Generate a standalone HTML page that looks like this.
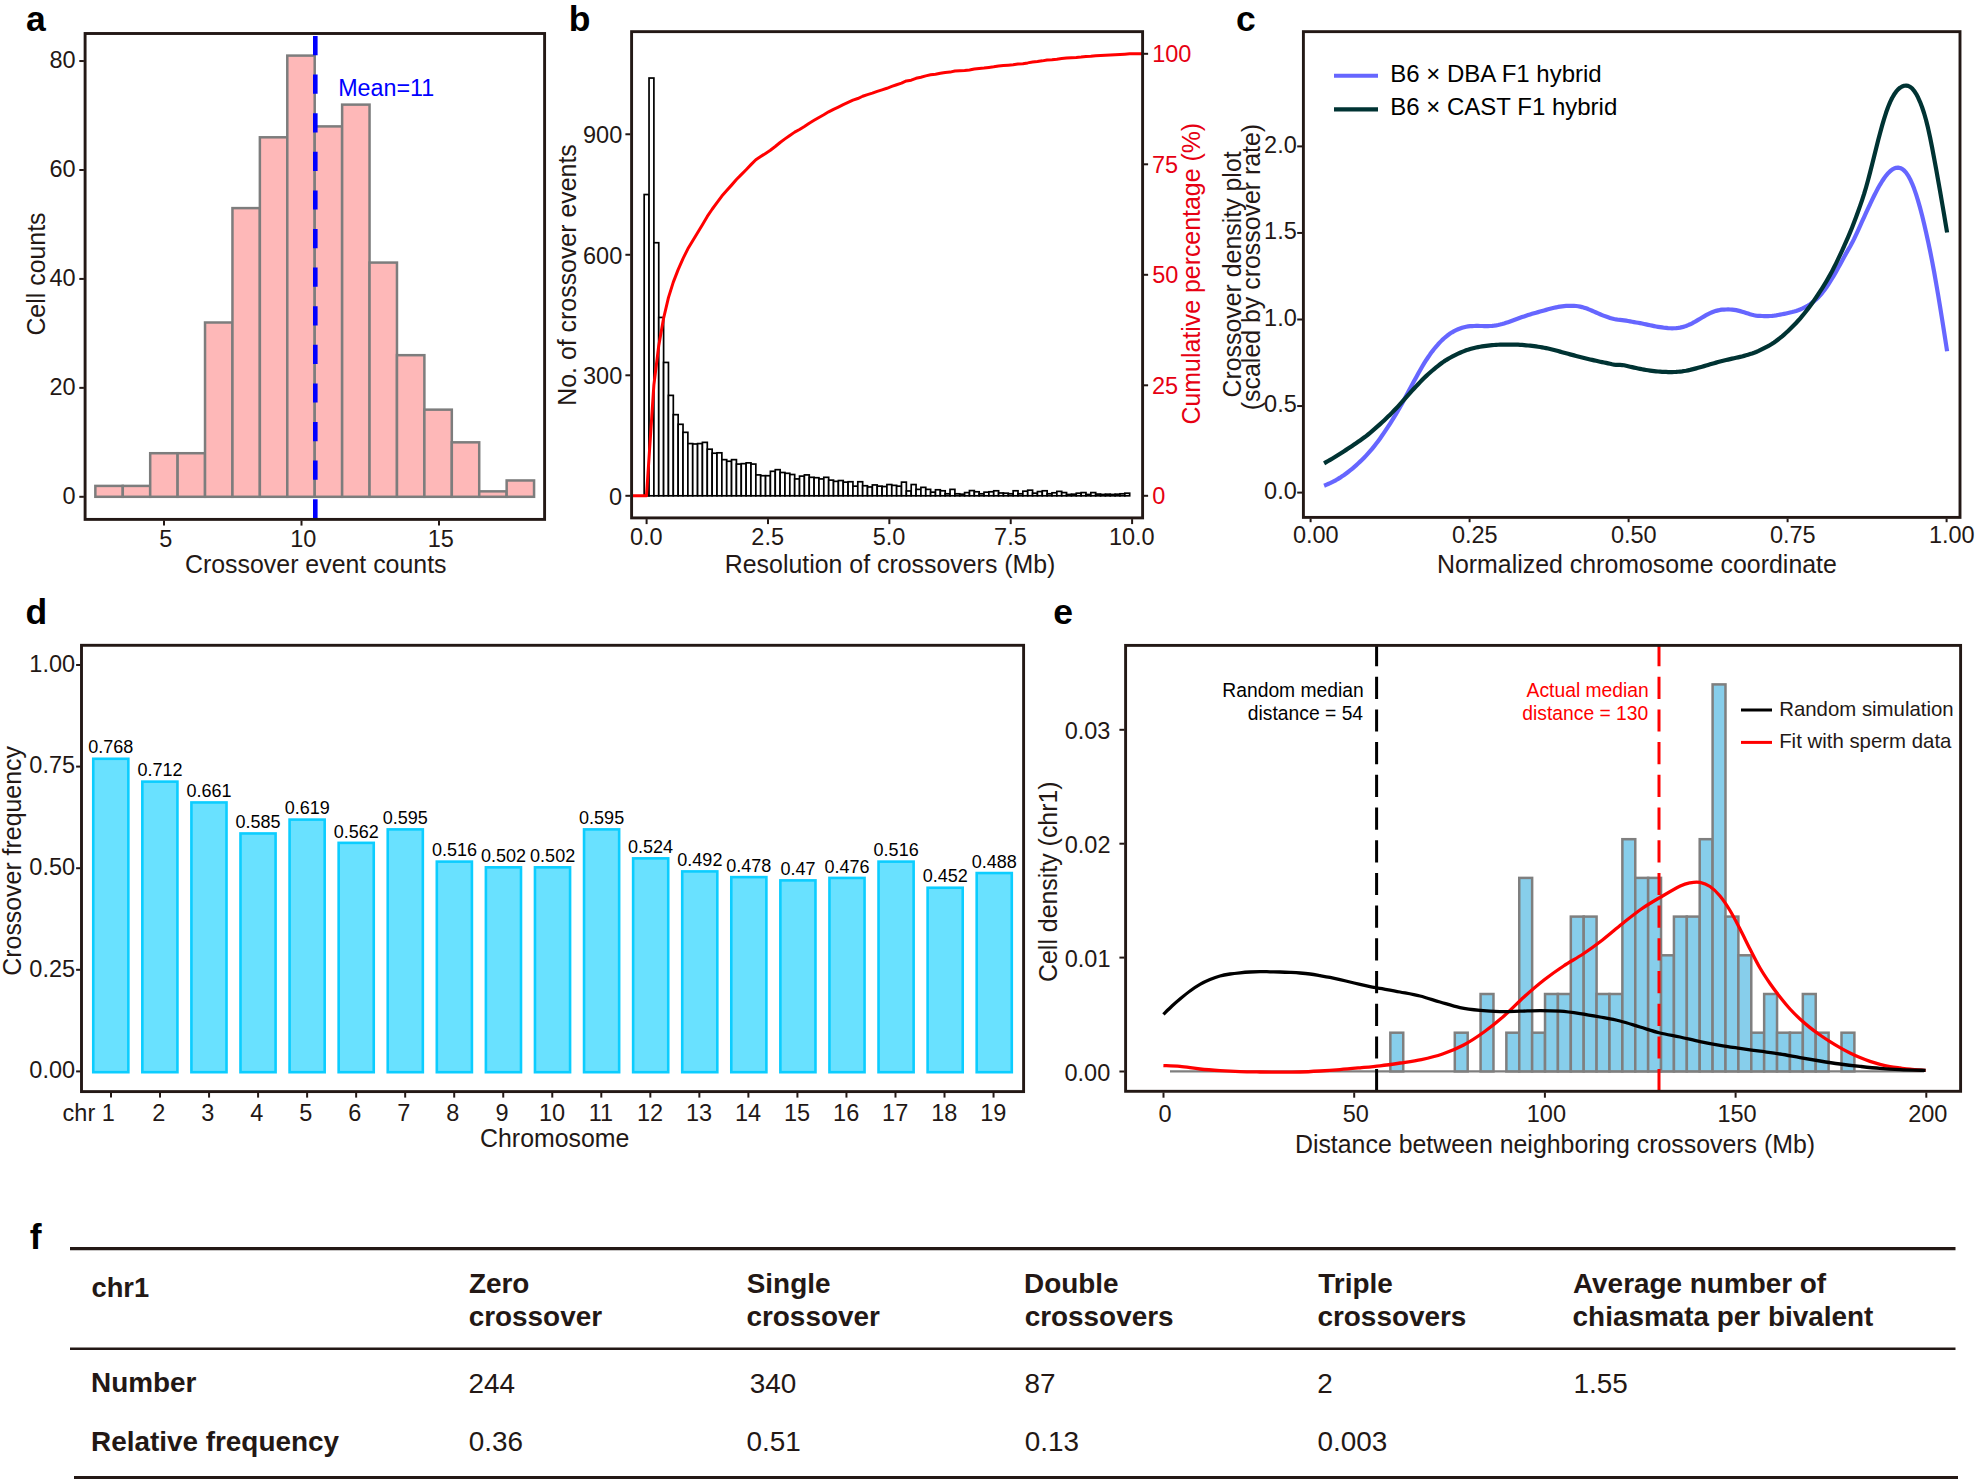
<!DOCTYPE html>
<html lang="en">
<head>
<meta charset="utf-8">
<title>Crossover statistics figure</title>
<style>
html,body{margin:0;padding:0;background:#fff;}
body{width:1975px;height:1479px;overflow:hidden;}
svg{display:block;font-family:"Liberation Sans",Arial,Helvetica,sans-serif;}
svg text{white-space:pre;}
</style>
</head>
<body>
<svg width="1975" height="1479" viewBox="0 0 1975 1479">
<rect x="0" y="0" width="1975" height="1479" fill="#fff"/>
<g id="pa">
<rect x="95.35" y="485.91" width="27.42" height="10.89" fill="#FEB8B8" stroke="#7D7D7D" stroke-width="2.5" />
<rect x="122.77" y="485.91" width="27.42" height="10.89" fill="#FEB8B8" stroke="#7D7D7D" stroke-width="2.5" />
<rect x="150.19" y="453.22" width="27.42" height="43.58" fill="#FEB8B8" stroke="#7D7D7D" stroke-width="2.5" />
<rect x="177.61" y="453.22" width="27.42" height="43.58" fill="#FEB8B8" stroke="#7D7D7D" stroke-width="2.5" />
<rect x="205.03" y="322.5" width="27.42" height="174.3" fill="#FEB8B8" stroke="#7D7D7D" stroke-width="2.5" />
<rect x="232.45" y="208.11" width="27.42" height="288.69" fill="#FEB8B8" stroke="#7D7D7D" stroke-width="2.5" />
<rect x="259.87" y="137.3" width="27.42" height="359.5" fill="#FEB8B8" stroke="#7D7D7D" stroke-width="2.5" />
<rect x="287.29" y="55.59" width="27.42" height="441.21" fill="#FEB8B8" stroke="#7D7D7D" stroke-width="2.5" />
<rect x="314.71" y="126.4" width="27.42" height="370.4" fill="#FEB8B8" stroke="#7D7D7D" stroke-width="2.5" />
<rect x="342.13" y="104.62" width="27.42" height="392.18" fill="#FEB8B8" stroke="#7D7D7D" stroke-width="2.5" />
<rect x="369.55" y="262.58" width="27.42" height="234.22" fill="#FEB8B8" stroke="#7D7D7D" stroke-width="2.5" />
<rect x="396.97" y="355.18" width="27.42" height="141.62" fill="#FEB8B8" stroke="#7D7D7D" stroke-width="2.5" />
<rect x="424.39" y="409.65" width="27.42" height="87.15" fill="#FEB8B8" stroke="#7D7D7D" stroke-width="2.5" />
<rect x="451.81" y="442.33" width="27.42" height="54.47" fill="#FEB8B8" stroke="#7D7D7D" stroke-width="2.5" />
<rect x="479.23" y="491.35" width="27.42" height="5.45" fill="#FEB8B8" stroke="#7D7D7D" stroke-width="2.5" />
<rect x="506.65" y="480.46" width="27.42" height="16.34" fill="#FEB8B8" stroke="#7D7D7D" stroke-width="2.5" />
<line x1="315.3" y1="36" x2="315.3" y2="518.2" stroke="#0000FF" stroke-width="4.6" stroke-dasharray="19.2 19.4"/>
<rect x="85.1" y="33.5" width="459.5" height="485.9" fill="none" stroke="#231815" stroke-width="2.9" />
<line x1="79.3" y1="496.8" x2="83.9" y2="496.8" stroke="#231815" stroke-width="2" />
<text x="62.6" y="503.6" font-size="23.5" fill="#231815">0</text>
<line x1="79.3" y1="387.86" x2="83.9" y2="387.86" stroke="#231815" stroke-width="2" />
<text x="49.55" y="394.66" font-size="23.5" fill="#231815">20</text>
<line x1="79.3" y1="278.92" x2="83.9" y2="278.92" stroke="#231815" stroke-width="2" />
<text x="49.55" y="285.72" font-size="23.5" fill="#231815">40</text>
<line x1="79.3" y1="169.98" x2="83.9" y2="169.98" stroke="#231815" stroke-width="2" />
<text x="49.55" y="176.78" font-size="23.5" fill="#231815">60</text>
<line x1="79.3" y1="61.04" x2="83.9" y2="61.04" stroke="#231815" stroke-width="2" />
<text x="49.55" y="67.84" font-size="23.5" fill="#231815">80</text>
<line x1="164" y1="520.6" x2="164" y2="525.6" stroke="#231815" stroke-width="2" />
<text x="159.16" y="546.8" font-size="23.5" fill="#231815">5</text>
<line x1="301.5" y1="520.6" x2="301.5" y2="525.6" stroke="#231815" stroke-width="2" />
<text x="290.13" y="546.8" font-size="23.5" fill="#231815">10</text>
<line x1="439" y1="520.6" x2="439" y2="525.6" stroke="#231815" stroke-width="2" />
<text x="427.63" y="546.8" font-size="23.5" fill="#231815">15</text>
<text x="185.03" y="572.5" font-size="24.9" fill="#231815">Crossover event counts</text>
<text x="44.6" y="335.6" font-size="24.9" fill="#231815" transform="rotate(-90 44.6 335.6)">Cell counts</text>
<text x="338.14" y="95.6" font-size="23.3" fill="#0000FF">Mean=11</text>
<text x="26.04" y="31" font-size="35.5" fill="#000" font-weight="bold">a</text>
</g>
<g id="pb">
<rect x="644.17" y="194.53" width="4.86" height="301.27" fill="#fff" stroke="#000" stroke-width="1.7" />
<rect x="649.03" y="78.03" width="4.86" height="417.77" fill="#fff" stroke="#000" stroke-width="1.7" />
<rect x="653.88" y="242.73" width="4.86" height="253.07" fill="#fff" stroke="#000" stroke-width="1.7" />
<rect x="658.74" y="317.45" width="4.86" height="178.35" fill="#fff" stroke="#000" stroke-width="1.7" />
<rect x="663.59" y="362.44" width="4.86" height="133.36" fill="#fff" stroke="#000" stroke-width="1.7" />
<rect x="668.45" y="395.38" width="4.86" height="100.42" fill="#fff" stroke="#000" stroke-width="1.7" />
<rect x="673.3" y="414.66" width="4.86" height="81.14" fill="#fff" stroke="#000" stroke-width="1.7" />
<rect x="678.16" y="424.3" width="4.86" height="71.5" fill="#fff" stroke="#000" stroke-width="1.7" />
<rect x="683.01" y="432.33" width="4.86" height="63.47" fill="#fff" stroke="#000" stroke-width="1.7" />
<rect x="687.87" y="443.58" width="4.86" height="52.22" fill="#fff" stroke="#000" stroke-width="1.7" />
<rect x="692.72" y="443.98" width="4.86" height="51.82" fill="#fff" stroke="#000" stroke-width="1.7" />
<rect x="697.58" y="443.58" width="4.86" height="52.22" fill="#fff" stroke="#000" stroke-width="1.7" />
<rect x="702.43" y="442.37" width="4.86" height="53.43" fill="#fff" stroke="#000" stroke-width="1.7" />
<rect x="707.29" y="449.2" width="4.86" height="46.6" fill="#fff" stroke="#000" stroke-width="1.7" />
<rect x="712.14" y="453.22" width="4.86" height="42.58" fill="#fff" stroke="#000" stroke-width="1.7" />
<rect x="717" y="452.82" width="4.86" height="42.98" fill="#fff" stroke="#000" stroke-width="1.7" />
<rect x="721.85" y="459.65" width="4.86" height="36.15" fill="#fff" stroke="#000" stroke-width="1.7" />
<rect x="726.71" y="461.25" width="4.86" height="34.55" fill="#fff" stroke="#000" stroke-width="1.7" />
<rect x="731.56" y="459.65" width="4.86" height="36.15" fill="#fff" stroke="#000" stroke-width="1.7" />
<rect x="736.42" y="464.07" width="4.86" height="31.73" fill="#fff" stroke="#000" stroke-width="1.7" />
<rect x="741.27" y="463.66" width="4.86" height="32.14" fill="#fff" stroke="#000" stroke-width="1.7" />
<rect x="746.13" y="462.86" width="4.86" height="32.94" fill="#fff" stroke="#000" stroke-width="1.7" />
<rect x="750.98" y="464.07" width="4.86" height="31.73" fill="#fff" stroke="#000" stroke-width="1.7" />
<rect x="755.84" y="474.91" width="4.86" height="20.89" fill="#fff" stroke="#000" stroke-width="1.7" />
<rect x="760.69" y="475.72" width="4.86" height="20.09" fill="#fff" stroke="#000" stroke-width="1.7" />
<rect x="765.55" y="475.72" width="4.86" height="20.09" fill="#fff" stroke="#000" stroke-width="1.7" />
<rect x="770.4" y="471.3" width="4.86" height="24.5" fill="#fff" stroke="#000" stroke-width="1.7" />
<rect x="775.26" y="469.69" width="4.86" height="26.11" fill="#fff" stroke="#000" stroke-width="1.7" />
<rect x="780.11" y="472.5" width="4.86" height="23.3" fill="#fff" stroke="#000" stroke-width="1.7" />
<rect x="784.97" y="473.3" width="4.86" height="22.5" fill="#fff" stroke="#000" stroke-width="1.7" />
<rect x="789.82" y="474.51" width="4.86" height="21.29" fill="#fff" stroke="#000" stroke-width="1.7" />
<rect x="794.68" y="478.93" width="4.86" height="16.87" fill="#fff" stroke="#000" stroke-width="1.7" />
<rect x="799.53" y="476.12" width="4.86" height="19.68" fill="#fff" stroke="#000" stroke-width="1.7" />
<rect x="804.39" y="474.91" width="4.86" height="20.89" fill="#fff" stroke="#000" stroke-width="1.7" />
<rect x="809.24" y="477.32" width="4.86" height="18.48" fill="#fff" stroke="#000" stroke-width="1.7" />
<rect x="814.1" y="477.72" width="4.86" height="18.08" fill="#fff" stroke="#000" stroke-width="1.7" />
<rect x="818.95" y="478.93" width="4.86" height="16.87" fill="#fff" stroke="#000" stroke-width="1.7" />
<rect x="823.81" y="477.32" width="4.86" height="18.48" fill="#fff" stroke="#000" stroke-width="1.7" />
<rect x="828.66" y="480.13" width="4.86" height="15.67" fill="#fff" stroke="#000" stroke-width="1.7" />
<rect x="833.52" y="481.34" width="4.86" height="14.46" fill="#fff" stroke="#000" stroke-width="1.7" />
<rect x="838.37" y="480.54" width="4.86" height="15.26" fill="#fff" stroke="#000" stroke-width="1.7" />
<rect x="843.23" y="482.14" width="4.86" height="13.66" fill="#fff" stroke="#000" stroke-width="1.7" />
<rect x="848.08" y="481.74" width="4.86" height="14.06" fill="#fff" stroke="#000" stroke-width="1.7" />
<rect x="852.94" y="486.16" width="4.86" height="9.64" fill="#fff" stroke="#000" stroke-width="1.7" />
<rect x="857.79" y="481.74" width="4.86" height="14.06" fill="#fff" stroke="#000" stroke-width="1.7" />
<rect x="862.65" y="485.76" width="4.86" height="10.04" fill="#fff" stroke="#000" stroke-width="1.7" />
<rect x="867.5" y="486.96" width="4.86" height="8.84" fill="#fff" stroke="#000" stroke-width="1.7" />
<rect x="872.36" y="484.95" width="4.86" height="10.85" fill="#fff" stroke="#000" stroke-width="1.7" />
<rect x="877.21" y="486.16" width="4.86" height="9.64" fill="#fff" stroke="#000" stroke-width="1.7" />
<rect x="882.07" y="486.56" width="4.86" height="9.24" fill="#fff" stroke="#000" stroke-width="1.7" />
<rect x="886.92" y="484.55" width="4.86" height="11.25" fill="#fff" stroke="#000" stroke-width="1.7" />
<rect x="891.78" y="485.36" width="4.86" height="10.44" fill="#fff" stroke="#000" stroke-width="1.7" />
<rect x="896.63" y="486.16" width="4.86" height="9.64" fill="#fff" stroke="#000" stroke-width="1.7" />
<rect x="901.49" y="482.14" width="4.86" height="13.66" fill="#fff" stroke="#000" stroke-width="1.7" />
<rect x="906.34" y="490.98" width="4.86" height="4.82" fill="#fff" stroke="#000" stroke-width="1.7" />
<rect x="911.2" y="484.55" width="4.86" height="11.25" fill="#fff" stroke="#000" stroke-width="1.7" />
<rect x="916.05" y="489.37" width="4.86" height="6.43" fill="#fff" stroke="#000" stroke-width="1.7" />
<rect x="920.91" y="487.36" width="4.86" height="8.44" fill="#fff" stroke="#000" stroke-width="1.7" />
<rect x="925.76" y="489.37" width="4.86" height="6.43" fill="#fff" stroke="#000" stroke-width="1.7" />
<rect x="930.62" y="492.18" width="4.86" height="3.62" fill="#fff" stroke="#000" stroke-width="1.7" />
<rect x="935.47" y="489.77" width="4.86" height="6.03" fill="#fff" stroke="#000" stroke-width="1.7" />
<rect x="940.33" y="490.78" width="4.86" height="5.02" fill="#fff" stroke="#000" stroke-width="1.7" />
<rect x="945.18" y="493.79" width="4.86" height="2.01" fill="#fff" stroke="#000" stroke-width="1.7" />
<rect x="950.04" y="489.37" width="4.86" height="6.43" fill="#fff" stroke="#000" stroke-width="1.7" />
<rect x="954.89" y="493.79" width="4.86" height="2.01" fill="#fff" stroke="#000" stroke-width="1.7" />
<rect x="959.75" y="494.19" width="4.86" height="1.61" fill="#fff" stroke="#000" stroke-width="1.7" />
<rect x="964.6" y="492.59" width="4.86" height="3.21" fill="#fff" stroke="#000" stroke-width="1.7" />
<rect x="969.46" y="490.58" width="4.86" height="5.22" fill="#fff" stroke="#000" stroke-width="1.7" />
<rect x="974.31" y="491.78" width="4.86" height="4.02" fill="#fff" stroke="#000" stroke-width="1.7" />
<rect x="979.17" y="493.79" width="4.86" height="2.01" fill="#fff" stroke="#000" stroke-width="1.7" />
<rect x="984.02" y="492.18" width="4.86" height="3.62" fill="#fff" stroke="#000" stroke-width="1.7" />
<rect x="988.88" y="491.78" width="4.86" height="4.02" fill="#fff" stroke="#000" stroke-width="1.7" />
<rect x="993.73" y="490.78" width="4.86" height="5.02" fill="#fff" stroke="#000" stroke-width="1.7" />
<rect x="998.59" y="492.99" width="4.86" height="2.81" fill="#fff" stroke="#000" stroke-width="1.7" />
<rect x="1003.44" y="493.19" width="4.86" height="2.61" fill="#fff" stroke="#000" stroke-width="1.7" />
<rect x="1008.3" y="493.79" width="4.86" height="2.01" fill="#fff" stroke="#000" stroke-width="1.7" />
<rect x="1013.15" y="490.78" width="4.86" height="5.02" fill="#fff" stroke="#000" stroke-width="1.7" />
<rect x="1018.01" y="493.79" width="4.86" height="2.01" fill="#fff" stroke="#000" stroke-width="1.7" />
<rect x="1022.86" y="491.18" width="4.86" height="4.62" fill="#fff" stroke="#000" stroke-width="1.7" />
<rect x="1027.72" y="490.18" width="4.86" height="5.62" fill="#fff" stroke="#000" stroke-width="1.7" />
<rect x="1032.57" y="493.19" width="4.86" height="2.61" fill="#fff" stroke="#000" stroke-width="1.7" />
<rect x="1037.43" y="491.58" width="4.86" height="4.22" fill="#fff" stroke="#000" stroke-width="1.7" />
<rect x="1042.28" y="490.78" width="4.86" height="5.02" fill="#fff" stroke="#000" stroke-width="1.7" />
<rect x="1047.14" y="493.79" width="4.86" height="2.01" fill="#fff" stroke="#000" stroke-width="1.7" />
<rect x="1051.99" y="492.79" width="4.86" height="3.01" fill="#fff" stroke="#000" stroke-width="1.7" />
<rect x="1056.85" y="491.38" width="4.86" height="4.42" fill="#fff" stroke="#000" stroke-width="1.7" />
<rect x="1061.7" y="492.59" width="4.86" height="3.21" fill="#fff" stroke="#000" stroke-width="1.7" />
<rect x="1066.56" y="494.47" width="4.86" height="1.33" fill="#fff" stroke="#000" stroke-width="1.7" />
<rect x="1071.41" y="494.19" width="4.86" height="1.61" fill="#fff" stroke="#000" stroke-width="1.7" />
<rect x="1076.27" y="493.19" width="4.86" height="2.61" fill="#fff" stroke="#000" stroke-width="1.7" />
<rect x="1081.12" y="492.59" width="4.86" height="3.21" fill="#fff" stroke="#000" stroke-width="1.7" />
<rect x="1085.98" y="494.47" width="4.86" height="1.33" fill="#fff" stroke="#000" stroke-width="1.7" />
<rect x="1090.83" y="492.59" width="4.86" height="3.21" fill="#fff" stroke="#000" stroke-width="1.7" />
<rect x="1095.69" y="494.07" width="4.86" height="1.73" fill="#fff" stroke="#000" stroke-width="1.7" />
<rect x="1100.54" y="494.47" width="4.86" height="1.33" fill="#fff" stroke="#000" stroke-width="1.7" />
<rect x="1105.4" y="494.19" width="4.86" height="1.61" fill="#fff" stroke="#000" stroke-width="1.7" />
<rect x="1110.25" y="494.47" width="4.86" height="1.33" fill="#fff" stroke="#000" stroke-width="1.7" />
<rect x="1115.11" y="494.19" width="4.86" height="1.61" fill="#fff" stroke="#000" stroke-width="1.7" />
<rect x="1119.96" y="493.79" width="4.86" height="2.01" fill="#fff" stroke="#000" stroke-width="1.7" />
<rect x="1124.82" y="493.19" width="4.86" height="2.61" fill="#fff" stroke="#000" stroke-width="1.7" />
<polyline points="631.6,495.8 646.5,495.8 653.88,384.82 658.74,345.77 663.59,318.24 668.45,297.66 673.3,282.16 678.16,269.63 683.01,258.6 687.87,248.8 692.72,240.74 697.58,232.74 702.43,224.69 707.29,216.44 712.14,209.25 717,202.68 721.85,196.04 726.71,190.46 731.56,185.13 736.42,179.55 741.27,174.65 746.13,169.69 750.98,164.61 755.84,159.71 760.69,156.49 765.55,153.39 770.4,150.29 775.26,146.51 780.11,142.48 784.97,138.88 789.82,135.41 794.68,132.12 799.53,129.51 804.39,126.45 809.24,123.18 814.1,120.29 818.95,117.44 823.81,114.77 828.66,111.84 833.52,109.35 838.37,107.03 843.23,104.58 848.08,102.38 852.94,100.11 857.79,98.54 862.65,96.25 867.5,94.61 872.36,93.16 877.21,91.39 882.07,89.81 886.92,88.3 891.78,86.46 896.63,84.75 901.49,83.18 906.34,80.94 911.2,80.15 916.05,78.31 920.91,77.26 925.76,75.88 930.62,74.83 935.47,74.24 940.33,73.25 945.18,72.43 950.04,72.1 954.89,71.05 959.75,70.72 964.6,70.46 969.46,69.93 974.31,69.08 979.17,68.42 984.02,68.09 988.88,67.5 993.73,66.84 998.59,66.02 1003.44,65.56 1008.3,65.14 1013.15,64.81 1018.01,63.99 1022.86,63.66 1027.72,62.9 1032.57,61.98 1037.43,61.55 1042.28,60.86 1047.14,60.04 1051.99,59.71 1056.85,59.22 1061.7,58.5 1066.56,57.97 1071.41,57.76 1076.27,57.49 1081.12,57.07 1085.98,56.54 1090.83,56.32 1095.69,55.8 1100.54,55.52 1105.4,55.3 1110.25,55.04 1115.11,54.82 1119.96,54.56 1124.82,54.23 1129.67,53.8 1142.6,53.8" fill="none" stroke="#FF0000" stroke-width="3" stroke-linejoin="round"/>
<rect x="631.6" y="31.65" width="511" height="486.25" fill="none" stroke="#231815" stroke-width="2.9" />
<line x1="625.4" y1="495.8" x2="630.4" y2="495.8" stroke="#231815" stroke-width="2" />
<text x="609.1" y="504.7" font-size="23.5" fill="#231815">0</text>
<line x1="625.4" y1="375.29" x2="630.4" y2="375.29" stroke="#231815" stroke-width="2" />
<text x="583.01" y="384.19" font-size="23.5" fill="#231815">300</text>
<line x1="625.4" y1="254.78" x2="630.4" y2="254.78" stroke="#231815" stroke-width="2" />
<text x="583.01" y="263.68" font-size="23.5" fill="#231815">600</text>
<line x1="625.4" y1="134.27" x2="630.4" y2="134.27" stroke="#231815" stroke-width="2" />
<text x="583.01" y="143.17" font-size="23.5" fill="#231815">900</text>
<line x1="1143.8" y1="495.8" x2="1148.1" y2="495.8" stroke="#231815" stroke-width="2" />
<text x="1152.26" y="504.3" font-size="23.5" fill="#E60012">0</text>
<line x1="1143.8" y1="385.3" x2="1148.1" y2="385.3" stroke="#231815" stroke-width="2" />
<text x="1152.03" y="393.8" font-size="23.5" fill="#E60012">25</text>
<line x1="1143.8" y1="274.8" x2="1148.1" y2="274.8" stroke="#231815" stroke-width="2" />
<text x="1152.26" y="283.3" font-size="23.5" fill="#E60012">50</text>
<line x1="1143.8" y1="164.3" x2="1148.1" y2="164.3" stroke="#231815" stroke-width="2" />
<text x="1152.03" y="172.8" font-size="23.5" fill="#E60012">75</text>
<line x1="1143.8" y1="53.8" x2="1148.1" y2="53.8" stroke="#231815" stroke-width="2" />
<text x="1152.24" y="62.3" font-size="23.5" fill="#E60012">100</text>
<line x1="646.6" y1="519.1" x2="646.6" y2="524.1" stroke="#231815" stroke-width="2" />
<text x="629.97" y="544.8" font-size="23.5" fill="#231815">0.0</text>
<line x1="767.98" y1="519.1" x2="767.98" y2="524.1" stroke="#231815" stroke-width="2" />
<text x="751.34" y="544.8" font-size="23.5" fill="#231815">2.5</text>
<line x1="889.35" y1="519.1" x2="889.35" y2="524.1" stroke="#231815" stroke-width="2" />
<text x="872.72" y="544.8" font-size="23.5" fill="#231815">5.0</text>
<line x1="1010.73" y1="519.1" x2="1010.73" y2="524.1" stroke="#231815" stroke-width="2" />
<text x="994.09" y="544.8" font-size="23.5" fill="#231815">7.5</text>
<line x1="1132.1" y1="519.1" x2="1132.1" y2="524.1" stroke="#231815" stroke-width="2" />
<text x="1108.93" y="544.8" font-size="23.5" fill="#231815">10.0</text>
<text x="724.81" y="572.8" font-size="24.9" fill="#231815">Resolution of crossovers (Mb)</text>
<text x="576.4" y="405.7" font-size="24.9" fill="#231815" transform="rotate(-90 576.4 405.7)">No. of crossover events</text>
<text x="1200.2" y="424.46" font-size="24.9" fill="#E60012" transform="rotate(-90 1200.2 424.46)">Cumulative percentage (%)</text>
<text x="568.79" y="31" font-size="35.5" fill="#000" font-weight="bold">b</text>
</g>
<g id="pc">
<polyline points="1324.1,485.72 1326.1,484.9 1328.1,484.05 1330.1,483.15 1332.1,482.19 1334.1,481.16 1336.1,480.06 1338.1,478.88 1340.1,477.63 1342.1,476.31 1344.1,474.93 1346.1,473.48 1348.1,471.97 1350.1,470.39 1352.1,468.76 1354.1,467.06 1356.1,465.32 1358.1,463.52 1360.1,461.66 1362.1,459.73 1364.1,457.72 1366.1,455.63 1368.1,453.45 1370.1,451.18 1372.1,448.82 1374.1,446.37 1376.1,443.81 1378.1,441.16 1380.1,438.4 1382.1,435.56 1384.1,432.64 1386.1,429.66 1388.1,426.62 1390.1,423.52 1392.1,420.36 1394.1,417.13 1396.1,413.82 1398.1,410.44 1400.1,406.97 1402.1,403.42 1404.1,399.79 1406.1,396.09 1408.1,392.35 1410.1,388.59 1412.1,384.82 1414.1,381.08 1416.1,377.38 1418.1,373.74 1420.1,370.18 1422.1,366.74 1424.1,363.42 1426.1,360.24 1428.1,357.22 1430.1,354.34 1432.1,351.61 1434.1,349.02 1436.1,346.58 1438.1,344.29 1440.1,342.14 1442.1,340.13 1444.1,338.27 1446.1,336.56 1448.1,334.99 1450.1,333.57 1452.1,332.3 1454.1,331.17 1456.1,330.17 1458.1,329.27 1460.1,328.49 1462.1,327.8 1464.1,327.23 1466.1,326.78 1468.1,326.44 1470.1,326.2 1472.1,326.06 1474.1,325.99 1476.1,325.97 1478.1,325.97 1480.1,325.98 1482.1,326 1484.1,326.03 1486.1,326.06 1488.1,326.06 1490.1,326.01 1492.1,325.87 1494.1,325.66 1496.1,325.36 1498.1,324.99 1500.1,324.55 1502.1,324.03 1504.1,323.45 1506.1,322.81 1508.1,322.15 1510.1,321.45 1512.1,320.73 1514.1,320 1516.1,319.26 1518.1,318.53 1520.1,317.81 1522.1,317.1 1524.1,316.41 1526.1,315.74 1528.1,315.09 1530.1,314.46 1532.1,313.86 1534.1,313.27 1536.1,312.7 1538.1,312.13 1540.1,311.58 1542.1,311.01 1544.1,310.45 1546.1,309.89 1548.1,309.34 1550.1,308.8 1552.1,308.28 1554.1,307.79 1556.1,307.34 1558.1,306.94 1560.1,306.59 1562.1,306.3 1564.1,306.08 1566.1,305.94 1568.1,305.86 1570.1,305.84 1572.1,305.84 1574.1,305.89 1576.1,306.01 1578.1,306.25 1580.1,306.61 1582.1,307.09 1584.1,307.66 1586.1,308.33 1588.1,309.08 1590.1,309.9 1592.1,310.76 1594.1,311.63 1596.1,312.52 1598.1,313.39 1600.1,314.25 1602.1,315.07 1604.1,315.84 1606.1,316.58 1608.1,317.27 1610.1,317.92 1612.1,318.52 1614.1,319.05 1616.1,319.45 1618.1,319.72 1620.1,319.89 1622.1,320.07 1624.1,320.33 1626.1,320.67 1628.1,321.04 1630.1,321.42 1632.1,321.77 1634.1,322.11 1636.1,322.45 1638.1,322.79 1640.1,323.16 1642.1,323.55 1644.1,323.96 1646.1,324.4 1648.1,324.83 1650.1,325.26 1652.1,325.68 1654.1,326.08 1656.1,326.46 1658.1,326.82 1660.1,327.14 1662.1,327.44 1664.1,327.71 1666.1,327.94 1668.1,328.13 1670.1,328.25 1672.1,328.28 1674.1,328.23 1676.1,328.1 1678.1,327.89 1680.1,327.59 1682.1,327.17 1684.1,326.62 1686.1,325.95 1688.1,325.16 1690.1,324.27 1692.1,323.28 1694.1,322.21 1696.1,321.07 1698.1,319.89 1700.1,318.69 1702.1,317.49 1704.1,316.32 1706.1,315.19 1708.1,314.13 1710.1,313.15 1712.1,312.27 1714.1,311.51 1716.1,310.87 1718.1,310.35 1720.1,309.95 1722.1,309.69 1724.1,309.54 1726.1,309.48 1728.1,309.47 1730.1,309.51 1732.1,309.61 1734.1,309.82 1736.1,310.16 1738.1,310.6 1740.1,311.12 1742.1,311.7 1744.1,312.31 1746.1,312.95 1748.1,313.59 1750.1,314.21 1752.1,314.78 1754.1,315.27 1756.1,315.63 1758.1,315.84 1760.1,315.95 1762.1,316.02 1764.1,316.09 1766.1,316.12 1768.1,316.09 1770.1,316.01 1772.1,315.86 1774.1,315.63 1776.1,315.35 1778.1,315.01 1780.1,314.65 1782.1,314.27 1784.1,313.86 1786.1,313.45 1788.1,313.01 1790.1,312.55 1792.1,312.05 1794.1,311.5 1796.1,310.89 1798.1,310.21 1800.1,309.45 1802.1,308.61 1804.1,307.67 1806.1,306.63 1808.1,305.46 1810.1,304.17 1812.1,302.74 1814.1,301.17 1816.1,299.45 1818.1,297.54 1820.1,295.41 1822.1,293.06 1824.1,290.49 1826.1,287.73 1828.1,284.79 1830.1,281.68 1832.1,278.43 1834.1,275.06 1836.1,271.59 1838.1,268.04 1840.1,264.41 1842.1,260.71 1844.1,257 1846.1,253.38 1848.1,249.92 1850.1,246.49 1852.1,242.86 1854.1,238.89 1856.1,234.64 1858.1,230.26 1860.1,225.86 1862.1,221.48 1864.1,217.1 1866.1,212.73 1868.1,208.39 1870.1,204.09 1872.1,199.86 1874.1,195.77 1876.1,191.83 1878.1,188.09 1880.1,184.55 1882.1,181.26 1884.1,178.24 1886.1,175.54 1888.1,173.22 1890.1,171.26 1892.1,169.69 1894.1,168.53 1896.1,167.83 1898.1,167.64 1900.1,167.98 1902.1,168.91 1904.1,170.47 1906.1,172.68 1908.1,175.59 1910.1,179.2 1912.1,183.53 1914.1,188.6 1916.1,194.38 1918.1,200.83 1920.1,207.9 1922.1,215.56 1924.1,223.77 1926.1,232.45 1928.1,241.52 1930.1,251.01 1932.1,261.05 1934.1,271.74 1936.1,283.02 1938.1,294.76 1940.1,306.86 1942.1,319.27 1944.1,331.93 1946.1,344.77 1946.6,347.99 1947.1,351.21" fill="none" stroke="#6666FF" stroke-width="4.2" stroke-linejoin="round"/>
<polyline points="1324.1,463.34 1326.1,462.19 1328.1,461.04 1330.1,459.88 1332.1,458.69 1334.1,457.49 1336.1,456.26 1338.1,455.02 1340.1,453.76 1342.1,452.48 1344.1,451.19 1346.1,449.88 1348.1,448.57 1350.1,447.24 1352.1,445.9 1354.1,444.55 1356.1,443.19 1358.1,441.83 1360.1,440.44 1362.1,439.03 1364.1,437.57 1366.1,436.05 1368.1,434.48 1370.1,432.84 1372.1,431.16 1374.1,429.45 1376.1,427.7 1378.1,425.92 1380.1,424.12 1382.1,422.28 1384.1,420.41 1386.1,418.52 1388.1,416.59 1390.1,414.63 1392.1,412.63 1394.1,410.59 1396.1,408.48 1398.1,406.32 1400.1,404.1 1402.1,401.85 1404.1,399.59 1406.1,397.33 1408.1,395.09 1410.1,392.87 1412.1,390.69 1414.1,388.52 1416.1,386.38 1418.1,384.25 1420.1,382.14 1422.1,380.08 1424.1,378.07 1426.1,376.13 1428.1,374.26 1430.1,372.46 1432.1,370.72 1434.1,369.04 1436.1,367.4 1438.1,365.81 1440.1,364.26 1442.1,362.77 1444.1,361.38 1446.1,360.08 1448.1,358.88 1450.1,357.74 1452.1,356.66 1454.1,355.63 1456.1,354.63 1458.1,353.68 1460.1,352.77 1462.1,351.9 1464.1,351.09 1466.1,350.33 1468.1,349.63 1470.1,349 1472.1,348.44 1474.1,347.94 1476.1,347.51 1478.1,347.11 1480.1,346.76 1482.1,346.43 1484.1,346.12 1486.1,345.84 1488.1,345.59 1490.1,345.36 1492.1,345.17 1494.1,345 1496.1,344.86 1498.1,344.76 1500.1,344.68 1502.1,344.63 1504.1,344.59 1506.1,344.57 1508.1,344.56 1510.1,344.56 1512.1,344.56 1514.1,344.58 1516.1,344.62 1518.1,344.7 1520.1,344.81 1522.1,344.95 1524.1,345.11 1526.1,345.29 1528.1,345.48 1530.1,345.69 1532.1,345.92 1534.1,346.16 1536.1,346.42 1538.1,346.71 1540.1,347.02 1542.1,347.36 1544.1,347.73 1546.1,348.13 1548.1,348.55 1550.1,349.01 1552.1,349.49 1554.1,350 1556.1,350.53 1558.1,351.07 1560.1,351.63 1562.1,352.18 1564.1,352.74 1566.1,353.29 1568.1,353.83 1570.1,354.36 1572.1,354.88 1574.1,355.4 1576.1,355.92 1578.1,356.44 1580.1,356.96 1582.1,357.48 1584.1,357.98 1586.1,358.48 1588.1,358.97 1590.1,359.44 1592.1,359.91 1594.1,360.37 1596.1,360.82 1598.1,361.26 1600.1,361.69 1602.1,362.1 1604.1,362.51 1606.1,362.92 1608.1,363.33 1610.1,363.76 1612.1,364.2 1614.1,364.59 1616.1,364.86 1618.1,364.96 1620.1,364.96 1622.1,365.04 1624.1,365.29 1626.1,365.7 1628.1,366.18 1630.1,366.68 1632.1,367.16 1634.1,367.61 1636.1,368.05 1638.1,368.48 1640.1,368.88 1642.1,369.27 1644.1,369.63 1646.1,369.98 1648.1,370.3 1650.1,370.59 1652.1,370.86 1654.1,371.1 1656.1,371.31 1658.1,371.5 1660.1,371.66 1662.1,371.79 1664.1,371.89 1666.1,371.97 1668.1,372.03 1670.1,372.06 1672.1,372.05 1674.1,372 1676.1,371.9 1678.1,371.75 1680.1,371.56 1682.1,371.33 1684.1,371.04 1686.1,370.71 1688.1,370.32 1690.1,369.89 1692.1,369.41 1694.1,368.9 1696.1,368.36 1698.1,367.81 1700.1,367.26 1702.1,366.7 1704.1,366.13 1706.1,365.55 1708.1,364.96 1710.1,364.36 1712.1,363.77 1714.1,363.19 1716.1,362.63 1718.1,362.09 1720.1,361.57 1722.1,361.06 1724.1,360.56 1726.1,360.07 1728.1,359.59 1730.1,359.12 1732.1,358.67 1734.1,358.23 1736.1,357.8 1738.1,357.37 1740.1,356.91 1742.1,356.42 1744.1,355.89 1746.1,355.33 1748.1,354.73 1750.1,354.11 1752.1,353.47 1754.1,352.77 1756.1,352.01 1758.1,351.14 1760.1,350.19 1762.1,349.2 1764.1,348.2 1766.1,347.2 1768.1,346.15 1770.1,345 1772.1,343.77 1774.1,342.44 1776.1,341.03 1778.1,339.53 1780.1,337.96 1782.1,336.31 1784.1,334.58 1786.1,332.79 1788.1,330.94 1790.1,329.03 1792.1,327.06 1794.1,325.03 1796.1,322.94 1798.1,320.77 1800.1,318.53 1802.1,316.2 1804.1,313.77 1806.1,311.26 1808.1,308.65 1810.1,305.97 1812.1,303.2 1814.1,300.37 1816.1,297.47 1818.1,294.49 1820.1,291.45 1822.1,288.33 1824.1,285.12 1826.1,281.82 1828.1,278.4 1830.1,274.86 1832.1,271.16 1834.1,267.32 1836.1,263.32 1838.1,259.18 1840.1,254.94 1842.1,250.61 1844.1,246.19 1846.1,241.69 1848.1,237.09 1850.1,232.35 1852.1,227.42 1854.1,222.29 1856.1,216.97 1858.1,211.5 1860.1,205.9 1862.1,200.1 1864.1,193.94 1866.1,187.27 1868.1,180.05 1870.1,172.39 1872.1,164.47 1874.1,156.45 1876.1,148.45 1878.1,140.57 1880.1,132.91 1882.1,125.61 1884.1,118.79 1886.1,112.56 1888.1,107.01 1890.1,102.17 1892.1,98.04 1894.1,94.58 1896.1,91.73 1898.1,89.45 1900.1,87.7 1902.1,86.48 1904.1,85.78 1906.1,85.59 1908.1,85.92 1910.1,86.85 1912.1,88.44 1914.1,90.76 1916.1,93.8 1918.1,97.55 1920.1,102.02 1922.1,107.23 1924.1,113.27 1926.1,120.28 1928.1,128.36 1930.1,137.51 1932.1,147.51 1934.1,158.08 1936.1,168.98 1938.1,180.12 1940.1,191.46 1942.1,202.99 1944.1,214.7 1946.1,226.54 1947.1,232.49 1947.1,232.49" fill="none" stroke="#003333" stroke-width="4.2" stroke-linejoin="round"/>
<rect x="1303.4" y="31.65" width="656.6" height="485.75" fill="none" stroke="#231815" stroke-width="2.9" />
<line x1="1297.2" y1="492.6" x2="1302.2" y2="492.6" stroke="#231815" stroke-width="2" />
<text x="1264.08" y="498.9" font-size="23.5" fill="#231815">0.0</text>
<line x1="1297.2" y1="406.05" x2="1302.2" y2="406.05" stroke="#231815" stroke-width="2" />
<text x="1264.08" y="412.35" font-size="23.5" fill="#231815">0.5</text>
<line x1="1297.2" y1="319.5" x2="1302.2" y2="319.5" stroke="#231815" stroke-width="2" />
<text x="1264.08" y="325.8" font-size="23.5" fill="#231815">1.0</text>
<line x1="1297.2" y1="232.95" x2="1302.2" y2="232.95" stroke="#231815" stroke-width="2" />
<text x="1264.08" y="239.25" font-size="23.5" fill="#231815">1.5</text>
<line x1="1297.2" y1="146.4" x2="1302.2" y2="146.4" stroke="#231815" stroke-width="2" />
<text x="1264.08" y="152.7" font-size="23.5" fill="#231815">2.0</text>
<line x1="1310.6" y1="518.6" x2="1310.6" y2="522.2" stroke="#231815" stroke-width="2" />
<text x="1292.93" y="542.5" font-size="23.5" fill="#231815">0.00</text>
<line x1="1469.6" y1="518.6" x2="1469.6" y2="522.2" stroke="#231815" stroke-width="2" />
<text x="1451.93" y="542.5" font-size="23.5" fill="#231815">0.25</text>
<line x1="1628.6" y1="518.6" x2="1628.6" y2="522.2" stroke="#231815" stroke-width="2" />
<text x="1610.93" y="542.5" font-size="23.5" fill="#231815">0.50</text>
<line x1="1787.6" y1="518.6" x2="1787.6" y2="522.2" stroke="#231815" stroke-width="2" />
<text x="1769.93" y="542.5" font-size="23.5" fill="#231815">0.75</text>
<line x1="1946.6" y1="518.6" x2="1946.6" y2="522.2" stroke="#231815" stroke-width="2" />
<text x="1928.93" y="542.5" font-size="23.5" fill="#231815">1.00</text>
<text x="1437.02" y="572.8" font-size="24.9" fill="#231815">Normalized chromosome coordinate</text>
<text x="1240.6" y="397.59" font-size="24.9" fill="#231815" transform="rotate(-90 1240.6 397.59)">Crossover density plot</text>
<text x="1259.6" y="410.17" font-size="24.9" fill="#231815" transform="rotate(-90 1259.6 410.17)">(scaled by crossover rate)</text>
<line x1="1334" y1="75.8" x2="1378" y2="75.8" stroke="#6666FF" stroke-width="4.1" />
<line x1="1334" y1="109.3" x2="1378" y2="109.3" stroke="#003333" stroke-width="4.3" />
<text x="1390.28" y="81.6" font-size="24" fill="#000">B6 × DBA F1 hybrid</text>
<text x="1390.28" y="115.2" font-size="24" fill="#000">B6 × CAST F1 hybrid</text>
<text x="1235.88" y="31" font-size="35.5" fill="#000" font-weight="bold">c</text>
</g>
<g id="pd">
<rect x="93.25" y="758.78" width="35.1" height="313.42" fill="#69E1FF" stroke="#0CCDFF" stroke-width="2.6" />
<text x="88.3" y="753.48" font-size="18" fill="#000">0.768</text>
<rect x="142.33" y="781.63" width="35.1" height="290.57" fill="#69E1FF" stroke="#0CCDFF" stroke-width="2.6" />
<text x="137.47" y="776.33" font-size="18" fill="#000">0.712</text>
<rect x="191.41" y="802.45" width="35.1" height="269.75" fill="#69E1FF" stroke="#0CCDFF" stroke-width="2.6" />
<text x="186.55" y="797.15" font-size="18" fill="#000">0.661</text>
<rect x="240.49" y="833.46" width="35.1" height="238.74" fill="#69E1FF" stroke="#0CCDFF" stroke-width="2.6" />
<text x="235.54" y="828.16" font-size="18" fill="#000">0.585</text>
<rect x="289.57" y="819.59" width="35.1" height="252.61" fill="#69E1FF" stroke="#0CCDFF" stroke-width="2.6" />
<text x="284.67" y="814.29" font-size="18" fill="#000">0.619</text>
<rect x="338.65" y="842.85" width="35.1" height="229.35" fill="#69E1FF" stroke="#0CCDFF" stroke-width="2.6" />
<text x="333.79" y="837.55" font-size="18" fill="#000">0.562</text>
<rect x="387.73" y="829.38" width="35.1" height="242.82" fill="#69E1FF" stroke="#0CCDFF" stroke-width="2.6" />
<text x="382.78" y="824.08" font-size="18" fill="#000">0.595</text>
<rect x="436.81" y="861.62" width="35.1" height="210.58" fill="#69E1FF" stroke="#0CCDFF" stroke-width="2.6" />
<text x="431.91" y="856.32" font-size="18" fill="#000">0.516</text>
<rect x="485.89" y="867.33" width="35.1" height="204.87" fill="#69E1FF" stroke="#0CCDFF" stroke-width="2.6" />
<text x="481.03" y="862.03" font-size="18" fill="#000">0.502</text>
<rect x="534.97" y="867.33" width="35.1" height="204.87" fill="#69E1FF" stroke="#0CCDFF" stroke-width="2.6" />
<text x="530.11" y="862.03" font-size="18" fill="#000">0.502</text>
<rect x="584.05" y="829.38" width="35.1" height="242.82" fill="#69E1FF" stroke="#0CCDFF" stroke-width="2.6" />
<text x="579.1" y="824.08" font-size="18" fill="#000">0.595</text>
<rect x="633.13" y="858.36" width="35.1" height="213.84" fill="#69E1FF" stroke="#0CCDFF" stroke-width="2.6" />
<text x="628.09" y="853.06" font-size="18" fill="#000">0.524</text>
<rect x="682.21" y="871.41" width="35.1" height="200.79" fill="#69E1FF" stroke="#0CCDFF" stroke-width="2.6" />
<text x="677.35" y="866.11" font-size="18" fill="#000">0.492</text>
<rect x="731.29" y="877.13" width="35.1" height="195.07" fill="#69E1FF" stroke="#0CCDFF" stroke-width="2.6" />
<text x="726.34" y="871.83" font-size="18" fill="#000">0.478</text>
<rect x="780.37" y="880.39" width="35.1" height="191.81" fill="#69E1FF" stroke="#0CCDFF" stroke-width="2.6" />
<text x="780.5" y="875.09" font-size="18" fill="#000">0.47</text>
<rect x="829.45" y="877.94" width="35.1" height="194.26" fill="#69E1FF" stroke="#0CCDFF" stroke-width="2.6" />
<text x="824.54" y="872.64" font-size="18" fill="#000">0.476</text>
<rect x="878.53" y="861.62" width="35.1" height="210.58" fill="#69E1FF" stroke="#0CCDFF" stroke-width="2.6" />
<text x="873.62" y="856.32" font-size="18" fill="#000">0.516</text>
<rect x="927.61" y="887.74" width="35.1" height="184.46" fill="#69E1FF" stroke="#0CCDFF" stroke-width="2.6" />
<text x="922.75" y="882.44" font-size="18" fill="#000">0.452</text>
<rect x="976.69" y="873.05" width="35.1" height="199.15" fill="#69E1FF" stroke="#0CCDFF" stroke-width="2.6" />
<text x="971.74" y="867.75" font-size="18" fill="#000">0.488</text>
<rect x="81.5" y="645.3" width="942.1" height="446.3" fill="none" stroke="#231815" stroke-width="2.9" />
<line x1="76.1" y1="1071.4" x2="80.3" y2="1071.4" stroke="#231815" stroke-width="2" />
<text x="29.33" y="1078.15" font-size="23.5" fill="#231815">0.00</text>
<line x1="76.1" y1="969.8" x2="80.3" y2="969.8" stroke="#231815" stroke-width="2" />
<text x="29.33" y="976.55" font-size="23.5" fill="#231815">0.25</text>
<line x1="76.1" y1="868.2" x2="80.3" y2="868.2" stroke="#231815" stroke-width="2" />
<text x="29.33" y="874.95" font-size="23.5" fill="#231815">0.50</text>
<line x1="76.1" y1="766.6" x2="80.3" y2="766.6" stroke="#231815" stroke-width="2" />
<text x="29.33" y="773.35" font-size="23.5" fill="#231815">0.75</text>
<line x1="76.1" y1="665" x2="80.3" y2="665" stroke="#231815" stroke-width="2" />
<text x="29.33" y="671.75" font-size="23.5" fill="#231815">1.00</text>
<line x1="111" y1="1092.8" x2="111" y2="1097.6" stroke="#231815" stroke-width="2" />
<text x="62.6" y="1120.9" font-size="23.5" fill="#231815">chr 1</text>
<line x1="160.03" y1="1092.8" x2="160.03" y2="1097.6" stroke="#231815" stroke-width="2" />
<text x="152.19" y="1120.9" font-size="23.5" fill="#231815">2</text>
<line x1="209.06" y1="1092.8" x2="209.06" y2="1097.6" stroke="#231815" stroke-width="2" />
<text x="201.22" y="1120.9" font-size="23.5" fill="#231815">3</text>
<line x1="258.09" y1="1092.8" x2="258.09" y2="1097.6" stroke="#231815" stroke-width="2" />
<text x="250.25" y="1120.9" font-size="23.5" fill="#231815">4</text>
<line x1="307.12" y1="1092.8" x2="307.12" y2="1097.6" stroke="#231815" stroke-width="2" />
<text x="299.28" y="1120.9" font-size="23.5" fill="#231815">5</text>
<line x1="356.15" y1="1092.8" x2="356.15" y2="1097.6" stroke="#231815" stroke-width="2" />
<text x="348.31" y="1120.9" font-size="23.5" fill="#231815">6</text>
<line x1="405.18" y1="1092.8" x2="405.18" y2="1097.6" stroke="#231815" stroke-width="2" />
<text x="397.34" y="1120.9" font-size="23.5" fill="#231815">7</text>
<line x1="454.21" y1="1092.8" x2="454.21" y2="1097.6" stroke="#231815" stroke-width="2" />
<text x="446.37" y="1120.9" font-size="23.5" fill="#231815">8</text>
<line x1="503.24" y1="1092.8" x2="503.24" y2="1097.6" stroke="#231815" stroke-width="2" />
<text x="495.4" y="1120.9" font-size="23.5" fill="#231815">9</text>
<line x1="552.27" y1="1092.8" x2="552.27" y2="1097.6" stroke="#231815" stroke-width="2" />
<text x="538.9" y="1120.9" font-size="23.5" fill="#231815">10</text>
<line x1="601.3" y1="1092.8" x2="601.3" y2="1097.6" stroke="#231815" stroke-width="2" />
<text x="588.8" y="1120.9" font-size="23.5" fill="#231815">11</text>
<line x1="650.33" y1="1092.8" x2="650.33" y2="1097.6" stroke="#231815" stroke-width="2" />
<text x="636.96" y="1120.9" font-size="23.5" fill="#231815">12</text>
<line x1="699.36" y1="1092.8" x2="699.36" y2="1097.6" stroke="#231815" stroke-width="2" />
<text x="685.99" y="1120.9" font-size="23.5" fill="#231815">13</text>
<line x1="748.39" y1="1092.8" x2="748.39" y2="1097.6" stroke="#231815" stroke-width="2" />
<text x="735.02" y="1120.9" font-size="23.5" fill="#231815">14</text>
<line x1="797.42" y1="1092.8" x2="797.42" y2="1097.6" stroke="#231815" stroke-width="2" />
<text x="784.05" y="1120.9" font-size="23.5" fill="#231815">15</text>
<line x1="846.45" y1="1092.8" x2="846.45" y2="1097.6" stroke="#231815" stroke-width="2" />
<text x="833.08" y="1120.9" font-size="23.5" fill="#231815">16</text>
<line x1="895.48" y1="1092.8" x2="895.48" y2="1097.6" stroke="#231815" stroke-width="2" />
<text x="882.11" y="1120.9" font-size="23.5" fill="#231815">17</text>
<line x1="944.51" y1="1092.8" x2="944.51" y2="1097.6" stroke="#231815" stroke-width="2" />
<text x="931.14" y="1120.9" font-size="23.5" fill="#231815">18</text>
<line x1="993.54" y1="1092.8" x2="993.54" y2="1097.6" stroke="#231815" stroke-width="2" />
<text x="980.17" y="1120.9" font-size="23.5" fill="#231815">19</text>
<text x="480.04" y="1146.8" font-size="24.9" fill="#231815">Chromosome</text>
<text x="21.2" y="975.71" font-size="24.9" fill="#231815" transform="rotate(-90 21.2 975.71)">Crossover frequency</text>
<text x="25.48" y="623.6" font-size="35.5" fill="#000" font-weight="bold">d</text>
</g>
<g id="pe">
<line x1="1170" y1="1071.4" x2="1924" y2="1071.4" stroke="#7F7F7F" stroke-width="2.3" />
<rect x="1390.35" y="1032.7" width="12.89" height="38.7" fill="#87CEEB" stroke="#7F7F7F" stroke-width="2.5" />
<rect x="1454.8" y="1032.7" width="12.89" height="38.7" fill="#87CEEB" stroke="#7F7F7F" stroke-width="2.5" />
<rect x="1480.58" y="994" width="12.89" height="77.4" fill="#87CEEB" stroke="#7F7F7F" stroke-width="2.5" />
<rect x="1506.36" y="1032.7" width="12.89" height="38.7" fill="#87CEEB" stroke="#7F7F7F" stroke-width="2.5" />
<rect x="1519.25" y="877.9" width="12.89" height="193.5" fill="#87CEEB" stroke="#7F7F7F" stroke-width="2.5" />
<rect x="1532.14" y="1032.7" width="12.89" height="38.7" fill="#87CEEB" stroke="#7F7F7F" stroke-width="2.5" />
<rect x="1545.03" y="994" width="12.89" height="77.4" fill="#87CEEB" stroke="#7F7F7F" stroke-width="2.5" />
<rect x="1557.92" y="994" width="12.89" height="77.4" fill="#87CEEB" stroke="#7F7F7F" stroke-width="2.5" />
<rect x="1570.81" y="916.6" width="12.89" height="154.8" fill="#87CEEB" stroke="#7F7F7F" stroke-width="2.5" />
<rect x="1583.7" y="916.6" width="12.89" height="154.8" fill="#87CEEB" stroke="#7F7F7F" stroke-width="2.5" />
<rect x="1596.59" y="994" width="12.89" height="77.4" fill="#87CEEB" stroke="#7F7F7F" stroke-width="2.5" />
<rect x="1609.48" y="994" width="12.89" height="77.4" fill="#87CEEB" stroke="#7F7F7F" stroke-width="2.5" />
<rect x="1622.37" y="839.2" width="12.89" height="232.2" fill="#87CEEB" stroke="#7F7F7F" stroke-width="2.5" />
<rect x="1635.26" y="877.9" width="12.89" height="193.5" fill="#87CEEB" stroke="#7F7F7F" stroke-width="2.5" />
<rect x="1648.15" y="877.9" width="12.89" height="193.5" fill="#87CEEB" stroke="#7F7F7F" stroke-width="2.5" />
<rect x="1661.04" y="955.3" width="12.89" height="116.1" fill="#87CEEB" stroke="#7F7F7F" stroke-width="2.5" />
<rect x="1673.93" y="916.6" width="12.89" height="154.8" fill="#87CEEB" stroke="#7F7F7F" stroke-width="2.5" />
<rect x="1686.82" y="916.6" width="12.89" height="154.8" fill="#87CEEB" stroke="#7F7F7F" stroke-width="2.5" />
<rect x="1699.71" y="839.2" width="12.89" height="232.2" fill="#87CEEB" stroke="#7F7F7F" stroke-width="2.5" />
<rect x="1712.6" y="684.4" width="12.89" height="387" fill="#87CEEB" stroke="#7F7F7F" stroke-width="2.5" />
<rect x="1725.49" y="916.6" width="12.89" height="154.8" fill="#87CEEB" stroke="#7F7F7F" stroke-width="2.5" />
<rect x="1738.38" y="955.3" width="12.89" height="116.1" fill="#87CEEB" stroke="#7F7F7F" stroke-width="2.5" />
<rect x="1751.27" y="1032.7" width="12.89" height="38.7" fill="#87CEEB" stroke="#7F7F7F" stroke-width="2.5" />
<rect x="1764.16" y="994" width="12.89" height="77.4" fill="#87CEEB" stroke="#7F7F7F" stroke-width="2.5" />
<rect x="1777.05" y="1032.7" width="12.89" height="38.7" fill="#87CEEB" stroke="#7F7F7F" stroke-width="2.5" />
<rect x="1789.94" y="1032.7" width="12.89" height="38.7" fill="#87CEEB" stroke="#7F7F7F" stroke-width="2.5" />
<rect x="1802.83" y="994" width="12.89" height="77.4" fill="#87CEEB" stroke="#7F7F7F" stroke-width="2.5" />
<rect x="1815.72" y="1032.7" width="12.89" height="38.7" fill="#87CEEB" stroke="#7F7F7F" stroke-width="2.5" />
<rect x="1841.5" y="1032.7" width="12.89" height="38.7" fill="#87CEEB" stroke="#7F7F7F" stroke-width="2.5" />
<path d="M1163.4,1065.6 C1166.17,1065.73 1173.9,1065.83 1180,1066.4 C1186.1,1066.97 1193.33,1068.3 1200,1069 C1206.67,1069.7 1213.33,1070.17 1220,1070.6 C1226.67,1071.03 1233.33,1071.37 1240,1071.6 C1246.67,1071.83 1253.33,1071.9 1260,1072 C1266.67,1072.1 1273.33,1072.2 1280,1072.2 C1286.67,1072.2 1293.33,1072.2 1300,1072 C1306.67,1071.8 1313.33,1071.4 1320,1071 C1326.67,1070.6 1333.33,1070.13 1340,1069.6 C1346.67,1069.07 1353.33,1068.43 1360,1067.8 C1366.67,1067.17 1373.29,1066.6 1380,1065.8 C1386.71,1065 1393.38,1064.03 1400.29,1063 C1407.19,1061.97 1414.38,1061.1 1421.43,1059.6 C1428.48,1058.1 1435.52,1056.43 1442.57,1054 C1449.62,1051.57 1456.81,1048.67 1463.71,1045 C1470.62,1041.33 1477.29,1036.83 1484,1032 C1490.71,1027.17 1497.33,1021.83 1504,1016 C1510.67,1010.17 1517.33,1003 1524,997 C1530.67,991 1537.4,985.17 1544,980 C1550.6,974.83 1557.08,970.33 1563.59,966 C1570.09,961.67 1576.55,958.33 1583.03,954 C1589.52,949.67 1596,945 1602.48,940 C1608.97,935 1615.45,929.17 1621.93,924 C1628.41,918.83 1634.9,913.5 1641.38,909 C1647.86,904.5 1654.34,900.83 1660.83,897 C1667.31,893.17 1675.41,888.37 1680.28,886 C1685.14,883.63 1686.71,883.4 1690,882.8 C1693.29,882.2 1696.67,881.78 1700,882.4 C1703.33,883.02 1706.67,884.23 1710,886.5 C1713.33,888.77 1716.67,892 1720,896 C1723.33,900 1726.67,905 1730,910.5 C1733.33,916 1736.67,922.58 1740,929 C1743.33,935.42 1746.67,942.5 1750,949 C1753.33,955.5 1756.67,962.25 1760,968 C1763.33,973.75 1766.67,978.67 1770,983.5 C1773.33,988.33 1776.67,992.75 1780,997 C1783.33,1001.25 1786.67,1005.33 1790,1009 C1793.33,1012.67 1796.67,1015.9 1800,1019 C1803.33,1022.1 1806.67,1024.93 1810,1027.6 C1813.33,1030.27 1816.67,1032.67 1820,1035 C1823.33,1037.33 1826.67,1039.5 1830,1041.6 C1833.33,1043.7 1836.67,1045.7 1840,1047.6 C1843.33,1049.5 1846.67,1051.33 1850,1053 C1853.33,1054.67 1856.67,1056.2 1860,1057.6 C1863.33,1059 1866.67,1060.27 1870,1061.4 C1873.33,1062.53 1876.67,1063.53 1880,1064.4 C1883.33,1065.27 1886.67,1066 1890,1066.6 C1893.33,1067.2 1896.67,1067.57 1900,1068 C1903.33,1068.43 1905.73,1068.8 1910,1069.2 C1914.27,1069.6 1923,1070.2 1925.6,1070.4" fill="none" stroke="#FF0000" stroke-width="3.3" />
<path d="M1163.4,1014.4 C1164.83,1013 1169.23,1008.57 1172,1006 C1174.77,1003.43 1177,1001.5 1180,999 C1183,996.5 1186.67,993.43 1190,991 C1193.33,988.57 1196.67,986.3 1200,984.4 C1203.33,982.5 1206.67,981 1210,979.6 C1213.33,978.2 1216.67,976.93 1220,976 C1223.33,975.07 1226.67,974.53 1230,974 C1233.33,973.47 1236.67,973.13 1240,972.8 C1243.33,972.47 1246.67,972.2 1250,972 C1253.33,971.8 1256.67,971.63 1260,971.6 C1263.33,971.57 1266.67,971.73 1270,971.8 C1273.33,971.87 1276.67,971.9 1280,972 C1283.33,972.1 1286.67,972.23 1290,972.4 C1293.33,972.57 1296.67,972.73 1300,973 C1303.33,973.27 1306.67,973.57 1310,974 C1313.33,974.43 1316.67,975.03 1320,975.6 C1323.33,976.17 1326.67,976.73 1330,977.4 C1333.33,978.07 1336.67,978.83 1340,979.6 C1343.33,980.37 1346.67,981.2 1350,982 C1353.33,982.8 1356.67,983.63 1360,984.4 C1363.33,985.17 1366.67,985.93 1370,986.6 C1373.33,987.27 1375,987.5 1380,988.4 C1385,989.3 1393.33,990.73 1400,992 C1406.67,993.27 1413.33,994.33 1420,996 C1426.67,997.67 1433.33,1000.07 1440,1002 C1446.67,1003.93 1453.33,1006.2 1460,1007.6 C1466.67,1009 1473.33,1009.73 1480,1010.4 C1486.67,1011.07 1493.33,1011.47 1500,1011.6 C1506.67,1011.73 1513.33,1011.37 1520,1011.2 C1526.67,1011.03 1533.33,1010.6 1540,1010.6 C1546.67,1010.6 1553.33,1010.7 1560,1011.2 C1566.67,1011.7 1573.33,1012.63 1580,1013.6 C1586.67,1014.57 1593.33,1015.77 1600,1017 C1606.67,1018.23 1613.33,1019.33 1620,1021 C1626.67,1022.67 1633.33,1025 1640,1027 C1646.67,1029 1653.33,1031.33 1660,1033 C1666.67,1034.67 1673.33,1035.57 1680,1037 C1686.67,1038.43 1693.33,1040.2 1700,1041.6 C1706.67,1043 1713.33,1044.27 1720,1045.4 C1726.67,1046.53 1733.33,1047.43 1740,1048.4 C1746.67,1049.37 1753.33,1050.27 1760,1051.2 C1766.67,1052.13 1773.33,1052.93 1780,1054 C1786.67,1055.07 1793.33,1056.43 1800,1057.6 C1806.67,1058.77 1813.33,1059.93 1820,1061 C1826.67,1062.07 1833.33,1063.1 1840,1064 C1846.67,1064.9 1853.33,1065.67 1860,1066.4 C1866.67,1067.13 1873.33,1067.87 1880,1068.4 C1886.67,1068.93 1892.4,1069.27 1900,1069.6 C1907.6,1069.93 1921.33,1070.27 1925.6,1070.4" fill="none" stroke="#000" stroke-width="3.3" />
<line x1="1376.6" y1="645.4" x2="1376.6" y2="1091.3" stroke="#000" stroke-width="3" stroke-dasharray="22.2 10.5" stroke-dashoffset="1.4"/>
<line x1="1659" y1="645.4" x2="1659" y2="1091.3" stroke="#FF0000" stroke-width="3" stroke-dasharray="22.2 10.5" stroke-dashoffset="1.4"/>
<rect x="1125.6" y="645.4" width="835" height="445.9" fill="none" stroke="#231815" stroke-width="2.9" />
<line x1="1119.4" y1="1071.5" x2="1124.4" y2="1071.5" stroke="#231815" stroke-width="2" />
<text x="1064.53" y="1080.6" font-size="23.5" fill="#231815">0.00</text>
<line x1="1119.4" y1="957.6" x2="1124.4" y2="957.6" stroke="#231815" stroke-width="2" />
<text x="1064.77" y="966.7" font-size="23.5" fill="#231815">0.01</text>
<line x1="1119.4" y1="843.7" x2="1124.4" y2="843.7" stroke="#231815" stroke-width="2" />
<text x="1064.77" y="852.8" font-size="23.5" fill="#231815">0.02</text>
<line x1="1119.4" y1="729.8" x2="1124.4" y2="729.8" stroke="#231815" stroke-width="2" />
<text x="1064.65" y="738.9" font-size="23.5" fill="#231815">0.03</text>
<line x1="1163.5" y1="1092.5" x2="1163.5" y2="1097.7" stroke="#231815" stroke-width="2" />
<text x="1158.46" y="1121.6" font-size="23.5" fill="#231815">0</text>
<line x1="1354.2" y1="1092.5" x2="1354.2" y2="1097.7" stroke="#231815" stroke-width="2" />
<text x="1342.63" y="1121.6" font-size="23.5" fill="#231815">50</text>
<line x1="1544.9" y1="1092.5" x2="1544.9" y2="1097.7" stroke="#231815" stroke-width="2" />
<text x="1526.79" y="1121.6" font-size="23.5" fill="#231815">100</text>
<line x1="1735.6" y1="1092.5" x2="1735.6" y2="1097.7" stroke="#231815" stroke-width="2" />
<text x="1717.49" y="1121.6" font-size="23.5" fill="#231815">150</text>
<line x1="1926.3" y1="1092.5" x2="1926.3" y2="1097.7" stroke="#231815" stroke-width="2" />
<text x="1908.19" y="1121.6" font-size="23.5" fill="#231815">200</text>
<text x="1294.91" y="1153" font-size="24.9" fill="#231815">Distance between neighboring crossovers (Mb)</text>
<text x="1057.5" y="981.96" font-size="24.9" fill="#231815" transform="rotate(-90 1057.5 981.96)">Cell density (chr1)</text>
<text x="1222.29" y="697" font-size="19.3" fill="#000">Random median</text>
<text x="1247.86" y="719.6" font-size="19.3" fill="#000">distance = 54</text>
<text x="1526.59" y="697" font-size="19.3" fill="#FF0000">Actual median</text>
<text x="1522.34" y="719.6" font-size="19.3" fill="#FF0000">distance = 130</text>
<line x1="1741" y1="710" x2="1772" y2="710" stroke="#000" stroke-width="3" />
<line x1="1741" y1="742.4" x2="1772" y2="742.4" stroke="#FF0000" stroke-width="3" />
<text x="1779.17" y="715.8" font-size="20.4" fill="#231815">Random simulation</text>
<text x="1779.17" y="748.2" font-size="20.4" fill="#231815">Fit with sperm data</text>
<text x="1053.28" y="623.6" font-size="35.5" fill="#000" font-weight="bold">e</text>
</g>
<g id="pf">
<line x1="70" y1="1248.6" x2="1955.5" y2="1248.6" stroke="#231815" stroke-width="3.3" />
<line x1="70" y1="1348.8" x2="1955.5" y2="1348.8" stroke="#231815" stroke-width="2.4" />
<line x1="74" y1="1477.6" x2="1958" y2="1477.6" stroke="#231815" stroke-width="3.2" />
<text x="91.51" y="1296.8" font-size="27.3" fill="#231815" font-weight="bold">chr1</text>
<text x="468.96" y="1293.2" font-size="27.9" fill="#231815" font-weight="bold">Zero</text>
<text x="468.68" y="1326.2" font-size="27.9" fill="#231815" font-weight="bold">crossover</text>
<text x="746.76" y="1293.2" font-size="27.9" fill="#231815" font-weight="bold">Single</text>
<text x="746.48" y="1326.2" font-size="27.9" fill="#231815" font-weight="bold">crossover</text>
<text x="1023.99" y="1293.2" font-size="27.9" fill="#231815" font-weight="bold">Double</text>
<text x="1024.68" y="1326.2" font-size="27.9" fill="#231815" font-weight="bold">crossovers</text>
<text x="1318.32" y="1293.2" font-size="27.9" fill="#231815" font-weight="bold">Triple</text>
<text x="1317.48" y="1326.2" font-size="27.9" fill="#231815" font-weight="bold">crossovers</text>
<text x="1573" y="1293.2" font-size="27.9" fill="#231815" font-weight="bold">Average number of</text>
<text x="1572.58" y="1326.2" font-size="27.9" fill="#231815" font-weight="bold">chiasmata per bivalent</text>
<text x="90.99" y="1392.4" font-size="27.9" fill="#231815" font-weight="bold">Number</text>
<text x="90.99" y="1451.2" font-size="27.9" fill="#231815" font-weight="bold">Relative frequency</text>
<text x="468.41" y="1393" font-size="27.9" fill="#231815">244</text>
<text x="749.68" y="1393" font-size="27.9" fill="#231815">340</text>
<text x="1024.54" y="1393" font-size="27.9" fill="#231815">87</text>
<text x="1317.2" y="1393" font-size="27.9" fill="#231815">2</text>
<text x="1573.51" y="1393" font-size="27.9" fill="#231815">1.55</text>
<text x="468.68" y="1450.7" font-size="27.9" fill="#231815">0.36</text>
<text x="746.48" y="1450.7" font-size="27.9" fill="#231815">0.51</text>
<text x="1024.68" y="1450.7" font-size="27.9" fill="#231815">0.13</text>
<text x="1317.48" y="1450.7" font-size="27.9" fill="#231815">0.003</text>
<text x="29.67" y="1249" font-size="35.5" fill="#000" font-weight="bold">f</text>
</g>
</svg>
</body>
</html>
